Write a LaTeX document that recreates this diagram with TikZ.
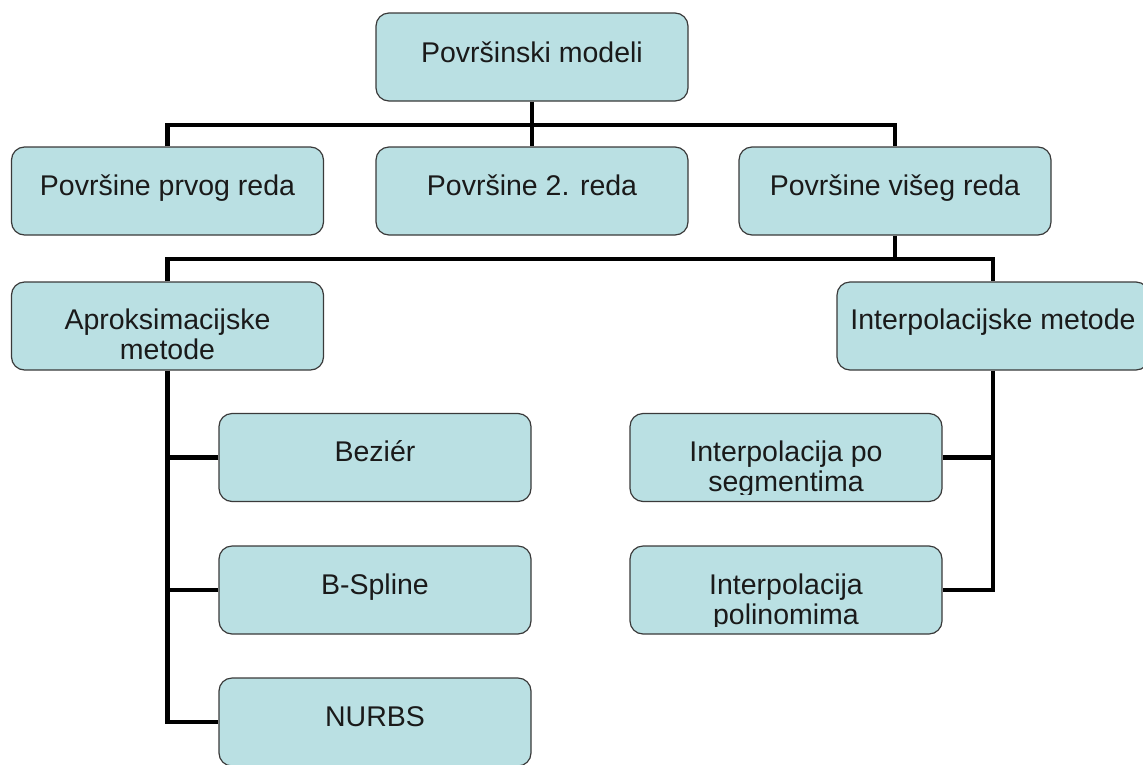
\documentclass[tikz,border=0pt]{standalone}
\usepackage{fontspec}
\setmainfont{Liberation Sans}
\usetikzlibrary{calc}
\definecolor{boxfill}{HTML}{BAE0E3}
\definecolor{boxline}{HTML}{3A3A3A}
\definecolor{txt}{HTML}{1A1A1A}
\begin{document}
\begin{tikzpicture}[x=1pt,y=-1pt,
  box/.style={draw=boxline, line width=1.2pt, fill=boxfill, rounded corners=13pt,
    minimum width=312pt, minimum height=88pt, inner sep=0pt},
  lbl/.style={anchor=base, inner sep=0pt, text=txt, font=\fontsize{28.5}{30}\selectfont},
  conn/.style={line width=4.5pt, black}]
\useasboundingbox (0,0) rectangle (1143,764);

% boxes
\node[box] (top)   at (532,57)    {};
\node[box] (p1)    at (167.5,191) {};
\node[box] (p2)    at (532,191)   {};
\node[box] (p3)    at (895,191)   {};
\node[box] (a1)    at (167.5,326) {};
\node[box] (i1)    at (993,326)   {};
\node[box] (bez)   at (375,457.5) {};
\node[box] (bsp)   at (375,590)   {};
\node[box] (nurbs) at (375,722)   {};
\node[box] (seg)   at (786,457.5) {};
\node[box] (pol)   at (786,590)   {};

% texts
\node[lbl] (ttop) at ($(top.north)+(0,50)$) {Površinski modeli};
\node[lbl] (tp1)  at ($(p1.north)+(0,49)$) {Površine prvog reda};
\node[lbl] (tp2)  at ($(p2.north)+(0,49)$) {Površine 2. reda};
\node[lbl] (tp3)  at ($(p3.north)+(0,49)$) {Površine višeg reda};
\node[lbl] (ta1)  at ($(a1.north)+(0,48)$) {\parbox[t]{300pt}{\centering Aproksimacijske\\metode}};
\node[lbl] (ti1)  at ($(i1.north)+(0,48)$) {Interpolacijske metode};
\node[lbl] (tbez) at ($(bez.north)+(0,49)$) {Beziér};
\node[lbl] (tbsp) at ($(bsp.north)+(0,49)$) {B-Spline};
\node[lbl] (tnur) at ($(nurbs.north)+(0,49)$) {NURBS};
\begin{scope}
  \clip ($(seg.north west)$) rectangle ($(seg.south east)+(0,-8)$);
  \node[lbl] (tseg) at ($(seg.north)+(0,49)$) {\parbox[t]{300pt}{\centering Interpolacija po\\segmentima}};
\end{scope}
\begin{scope}
  \clip ($(pol.north west)$) rectangle ($(pol.south east)+(0,-8)$);
  \node[lbl] (tpol) at ($(pol.north)+(0,49)$) {\parbox[t]{300pt}{\centering Interpolacija\\polinomima}};
\end{scope}

% connectors
\coordinate (bus1) at (532,125);
\coordinate (bus2) at (895,259);
\draw[conn] (top.south) -- (p2.north);
\draw[conn] (p1.north) |- (bus1) -| (p3.north);
\draw[conn] (p3.south) -- (bus2);
\draw[conn] (a1.north) |- (bus2) -| (i1.north);
\draw[conn] (a1.south) |- (nurbs.west);
\draw[conn] (bez.west) -- (bez.west -| a1.south);
\draw[conn] (bsp.west) -- (bsp.west -| a1.south);
\draw[conn] (i1.south) |- (pol.east);
\draw[conn] (seg.east) -- (seg.east -| i1.south);
\end{tikzpicture}
\end{document}
